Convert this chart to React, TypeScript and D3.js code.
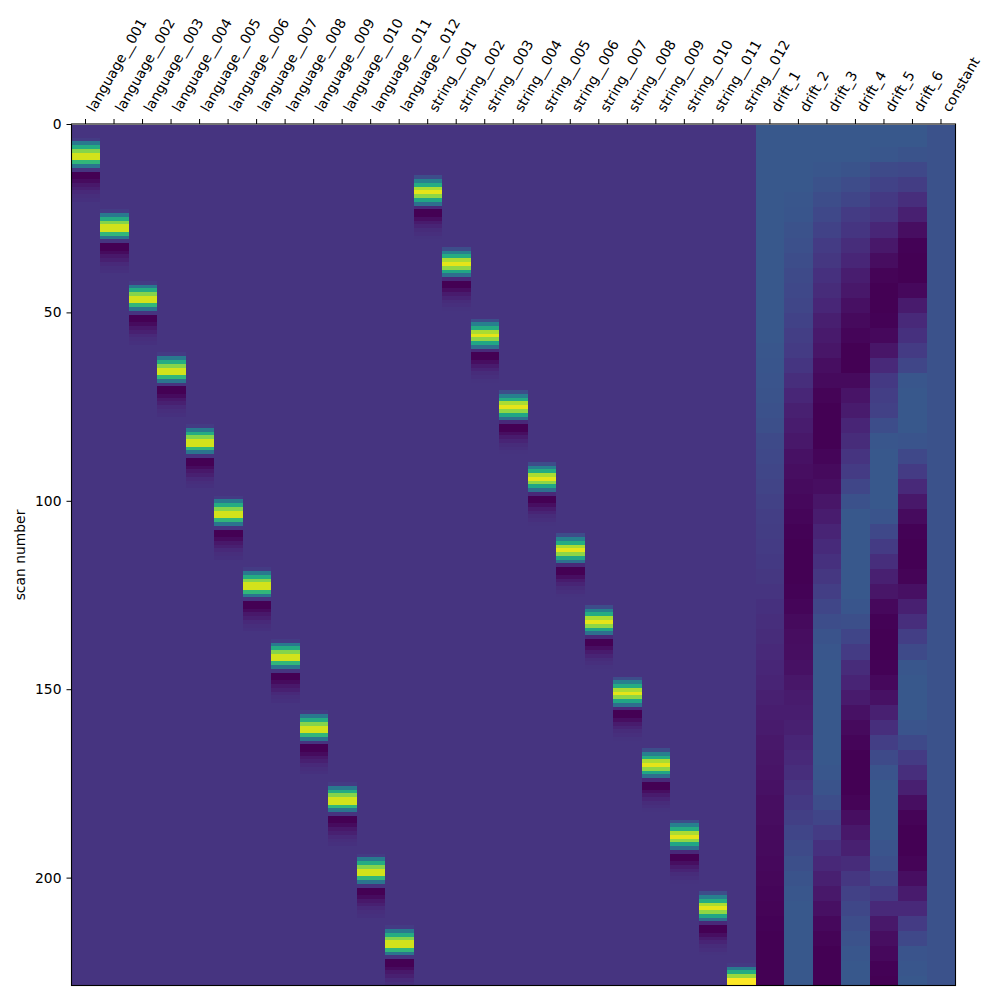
import { useEffect, useRef } from 'react';
import * as d3 from 'd3';

const conditionIds = ['001', '002', '003', '004', '005', '006', '007', '008', '009', '010', '011', '012'];
const driftNames = ['drift_1', 'drift_2', 'drift_3', 'drift_4', 'drift_5', 'drift_6'];
const columnNames = [
  ...conditionIds.map((id) => `language__${id}`),
  ...conditionIds.map((id) => `string__${id}`),
  ...driftNames,
  'constant'
];
const scanTicks = [0, 50, 100, 150, 200];

// row of the peak in each condition column
const languagePeakRows = [8, 27, 46, 65, 84, 103, 122, 141, 160, 179, 198, 217];
const stringPeakRows = [18, 37, 56, 75, 94, 113, 132, 151, 170, 189, 208];

// response around the peak: offset from peak row, value
const responseOffsets = [-4, -3, -2, -1, 0, 1, 2, 3, 4, 5, 6, 7, 8, 9, 10, 11, 12];
const languageResponse = [0.03, 0.3, 0.55, 0.78, 0.92, 0.92, 0.6, 0.28, 0, -0.175, -0.175, -0.14, -0.1, -0.07, -0.04, -0.02, -0.01];
const stringResponse = [0.1, 0.33, 0.55, 0.85, 0.95, 0.8, 0.52, 0.25, -0.04, -0.175, -0.175, -0.13, -0.09, -0.06, -0.03, -0.015, -0.005];

// string__012 is cut off by the end of the run
const lastBlockRows = [223, 224, 225, 226, 227, 228];
const lastBlockValues = [0.02, 0.3, 0.55, 0.82, 1, 1];

// drifts
const driftStep = 4;
const drift1 = [
  0.145, 0.145, 0.145, 0.145, 0.145, 0.145, 0.145, 0.145, 0.145, 0.145,
  0.145, 0.145, 0.145, 0.145, 0.145, 0.14, 0.135, 0.13, 0.125, 0.115,
  0.105, 0.09, 0.08, 0.07, 0.06, 0.05, 0.04, 0.035, 0.03, 0.02,
  0.01, 0, -0.01, -0.02, -0.03, -0.04, -0.05, -0.06, -0.07, -0.08,
  -0.09, -0.1, -0.11, -0.115, -0.12, -0.13, -0.135, -0.14, -0.145, -0.15,
  -0.155, -0.16, -0.165, -0.17, -0.175, -0.175, -0.175, -0.175
];
const drift2 = [
  0.145, 0.145, 0.145, 0.145, 0.145, 0.14, 0.135, 0.12, 0.11, 0.1,
  0.09, 0.08, 0.07, 0.055, 0.04, 0.03, 0.005, -0.02, -0.05, -0.07,
  -0.085, -0.1, -0.12, -0.13, -0.14, -0.15, -0.16, -0.17, -0.175, -0.175,
  -0.175, -0.17, -0.16, -0.145, -0.135, -0.13, -0.12, -0.105, -0.09, -0.08,
  -0.07, -0.055, -0.04, -0.02, 0, 0.02, 0.045, 0.065, 0.09, 0.105,
  0.125, 0.14, 0.145, 0.145, 0.145, 0.145, 0.145, 0.145
];
const drift3 = [
  0.145, 0.145, 0.145, 0.14, 0.12, 0.1, 0.08, 0.055, 0.03, 0.01,
  -0.01, -0.03, -0.05, -0.075, -0.095, -0.11, -0.13, -0.145, -0.165, -0.175,
  -0.175, -0.175, -0.16, -0.145, -0.13, -0.11, -0.085, -0.06, -0.035, -0.01,
  0.01, 0.04, 0.07, 0.1, 0.125, 0.14, 0.145, 0.145, 0.145, 0.145,
  0.145, 0.145, 0.145, 0.14, 0.125, 0.1, 0.065, 0.03, -0.01, -0.045,
  -0.07, -0.1, -0.125, -0.15, -0.165, -0.175, -0.175, -0.175
];
const drift4 = [
  0.145, 0.145, 0.145, 0.125, 0.095, 0.065, 0.03, 0.005, -0.025, -0.05,
  -0.08, -0.1, -0.125, -0.145, -0.16, -0.175, -0.175, -0.145, -0.115, -0.09,
  -0.055, -0.03, 0, 0.03, 0.07, 0.115, 0.145, 0.145, 0.145, 0.145,
  0.145, 0.145, 0.135, 0.105, 0.065, 0.03, -0.03, -0.06, -0.09, -0.12,
  -0.145, -0.16, -0.175, -0.175, -0.175, -0.165, -0.13, -0.1, -0.07, -0.03,
  0.01, 0.05, 0.075, 0.1, 0.12, 0.14, 0.145, 0.145
];
const drift5 = [
  0.145, 0.145, 0.14, 0.09, 0.055, 0.02, 0, -0.05, -0.1, -0.135,
  -0.165, -0.175, -0.175, -0.17, -0.15, -0.11, -0.04, 0.02, 0.04, 0.05,
  0.1, 0.14, 0.145, 0.145, 0.145, 0.145, 0.13, 0.08, 0.03, -0.02,
  -0.07, -0.11, -0.15, -0.17, -0.175, -0.175, -0.17, -0.15, -0.12, -0.07,
  -0.02, 0.04, 0.09, 0.13, 0.145, 0.145, 0.145, 0.145, 0.13, 0.11,
  0.07, 0.02, -0.04, -0.1, -0.13, -0.15, -0.17, -0.175
];
const drift6 = [
  0.145, 0.145, 0.125, 0.08, 0.035, -0.02, -0.07, -0.13, -0.17, -0.175,
  -0.175, -0.15, -0.09, -0.04, -0.01, 0.03, 0.07, 0.14, 0.145, 0.145,
  0.145, 0.13, 0.08, 0.03, -0.04, -0.1, -0.14, -0.17, -0.175, -0.175,
  -0.165, -0.125, -0.07, -0.02, 0.04, 0.09, 0.14, 0.145, 0.145, 0.145,
  0.13, 0.085, 0.03, -0.02, -0.07, -0.13, -0.165, -0.175, -0.175, -0.165,
  -0.13, -0.09, -0.04, 0.03, 0.08, 0.13, 0.14, 0.145
];
const driftSeries = [drift1, drift2, drift3, drift4, drift5, drift6];
const constantValue = 0.12;
const baselineValue = 0;

const lastRow = 228.5;
const valueDomain: [number, number] = [-0.175, 1];

const fontFamily = '"DejaVu Sans", sans-serif';
const fontSize = 13.89;

type Cell = { column: string; from: number; to: number; value: number };

function buildCells(): Cell[] {
  const cells: Cell[] = [];
  const conditionCols = columnNames.slice(0, 24);
  conditionCols.forEach((column) => {
    cells.push({ column, from: 0, to: lastRow, value: baselineValue });
  });
  const addBlocks = (peaks: number[], response: number[], firstCol: number) => {
    peaks.forEach((peak, i) => {
      responseOffsets.forEach((offset, j) => {
        const row = peak + offset;
        cells.push({ column: conditionCols[firstCol + i], from: row - 0.5, to: row + 0.5, value: response[j] });
      });
    });
  };
  addBlocks(languagePeakRows, languageResponse, 0);
  addBlocks(stringPeakRows, stringResponse, 12);
  lastBlockRows.forEach((row, j) => {
    cells.push({ column: 'string__012', from: row - 0.5, to: row + 0.5, value: lastBlockValues[j] });
  });
  driftNames.forEach((column, i) => {
    driftSeries[i].forEach((value, j) => {
      const row = j * driftStep;
      cells.push({ column, from: row - driftStep / 2, to: row + driftStep / 2, value });
    });
  });
  cells.push({ column: 'constant', from: 0, to: lastRow, value: constantValue });
  return cells;
}

export default function App() {
  const svgRef = useRef<SVGSVGElement | null>(null);

  useEffect(() => {
    const svg = d3.select(svgRef.current);
    svg.selectAll('*').remove();

    const plot = { left: 71.5, right: 955.5, top: 124.5, bottom: 985.5 };

    const xScale = d3.scaleBand().domain(columnNames).range([plot.left, plot.right]);
    const yScale = d3.scaleLinear().domain([0, lastRow]).range([plot.top, plot.bottom]).clamp(true);
    const colorScale = d3.scaleSequential(d3.interpolateViridis).domain(valueDomain);

    svg
      .append('g')
      .selectAll('rect')
      .data(buildCells())
      .join('rect')
      .attr('x', (d) => xScale(d.column) ?? 0)
      .attr('y', (d) => yScale(d.from))
      .attr('width', xScale.bandwidth())
      .attr('height', (d) => yScale(d.to) - yScale(d.from))
      .attr('fill', (d) => colorScale(d.value))
      .attr('shape-rendering', 'crispEdges');

    const xAxis = svg
      .append('g')
      .attr('transform', `translate(-0.25, ${plot.top - 0.5})`)
      .call(d3.axisTop(xScale).tickSize(5).tickSizeOuter(0).offset(0));
    xAxis.select('.domain').remove();
    xAxis
      .selectAll('text')
      .attr('font-family', fontFamily)
      .attr('font-size', fontSize)
      .attr('fill', '#000')
      .attr('text-anchor', 'start')
      .attr('dy', 0)
      .attr('y', 0)
      .attr('transform', 'translate(9, -11) rotate(-60)');

    const yAxis = svg
      .append('g')
      .attr('transform', `translate(${plot.left}, 0)`)
      .call(d3.axisLeft(yScale).tickValues(scanTicks).tickSize(5).tickPadding(5).offset(0));
    yAxis.select('.domain').remove();
    yAxis
      .selectAll('text')
      .attr('font-family', fontFamily)
      .attr('font-size', fontSize)
      .attr('fill', '#000');

    svg
      .append('text')
      .attr('transform', `translate(25, ${(plot.top + plot.bottom) / 2}) rotate(-90)`)
      .attr('text-anchor', 'middle')
      .attr('font-family', fontFamily)
      .attr('font-size', fontSize)
      .attr('fill', '#000')
      .text('scan number');

    svg
      .append('rect')
      .attr('x', plot.left)
      .attr('y', plot.top - 0.5)
      .attr('width', plot.right - plot.left)
      .attr('height', plot.bottom - plot.top + 0.5)
      .attr('fill', 'none')
      .attr('stroke', '#000')
      .attr('stroke-width', 1.1);
  }, []);

  return (
    <svg
      ref={svgRef}
      width={1000}
      height={1000}
      viewBox="0 0 1000 1000"
      style={{ position: 'absolute', left: 0, top: 0, display: 'block', background: '#fff' }}
    />
  );
}
